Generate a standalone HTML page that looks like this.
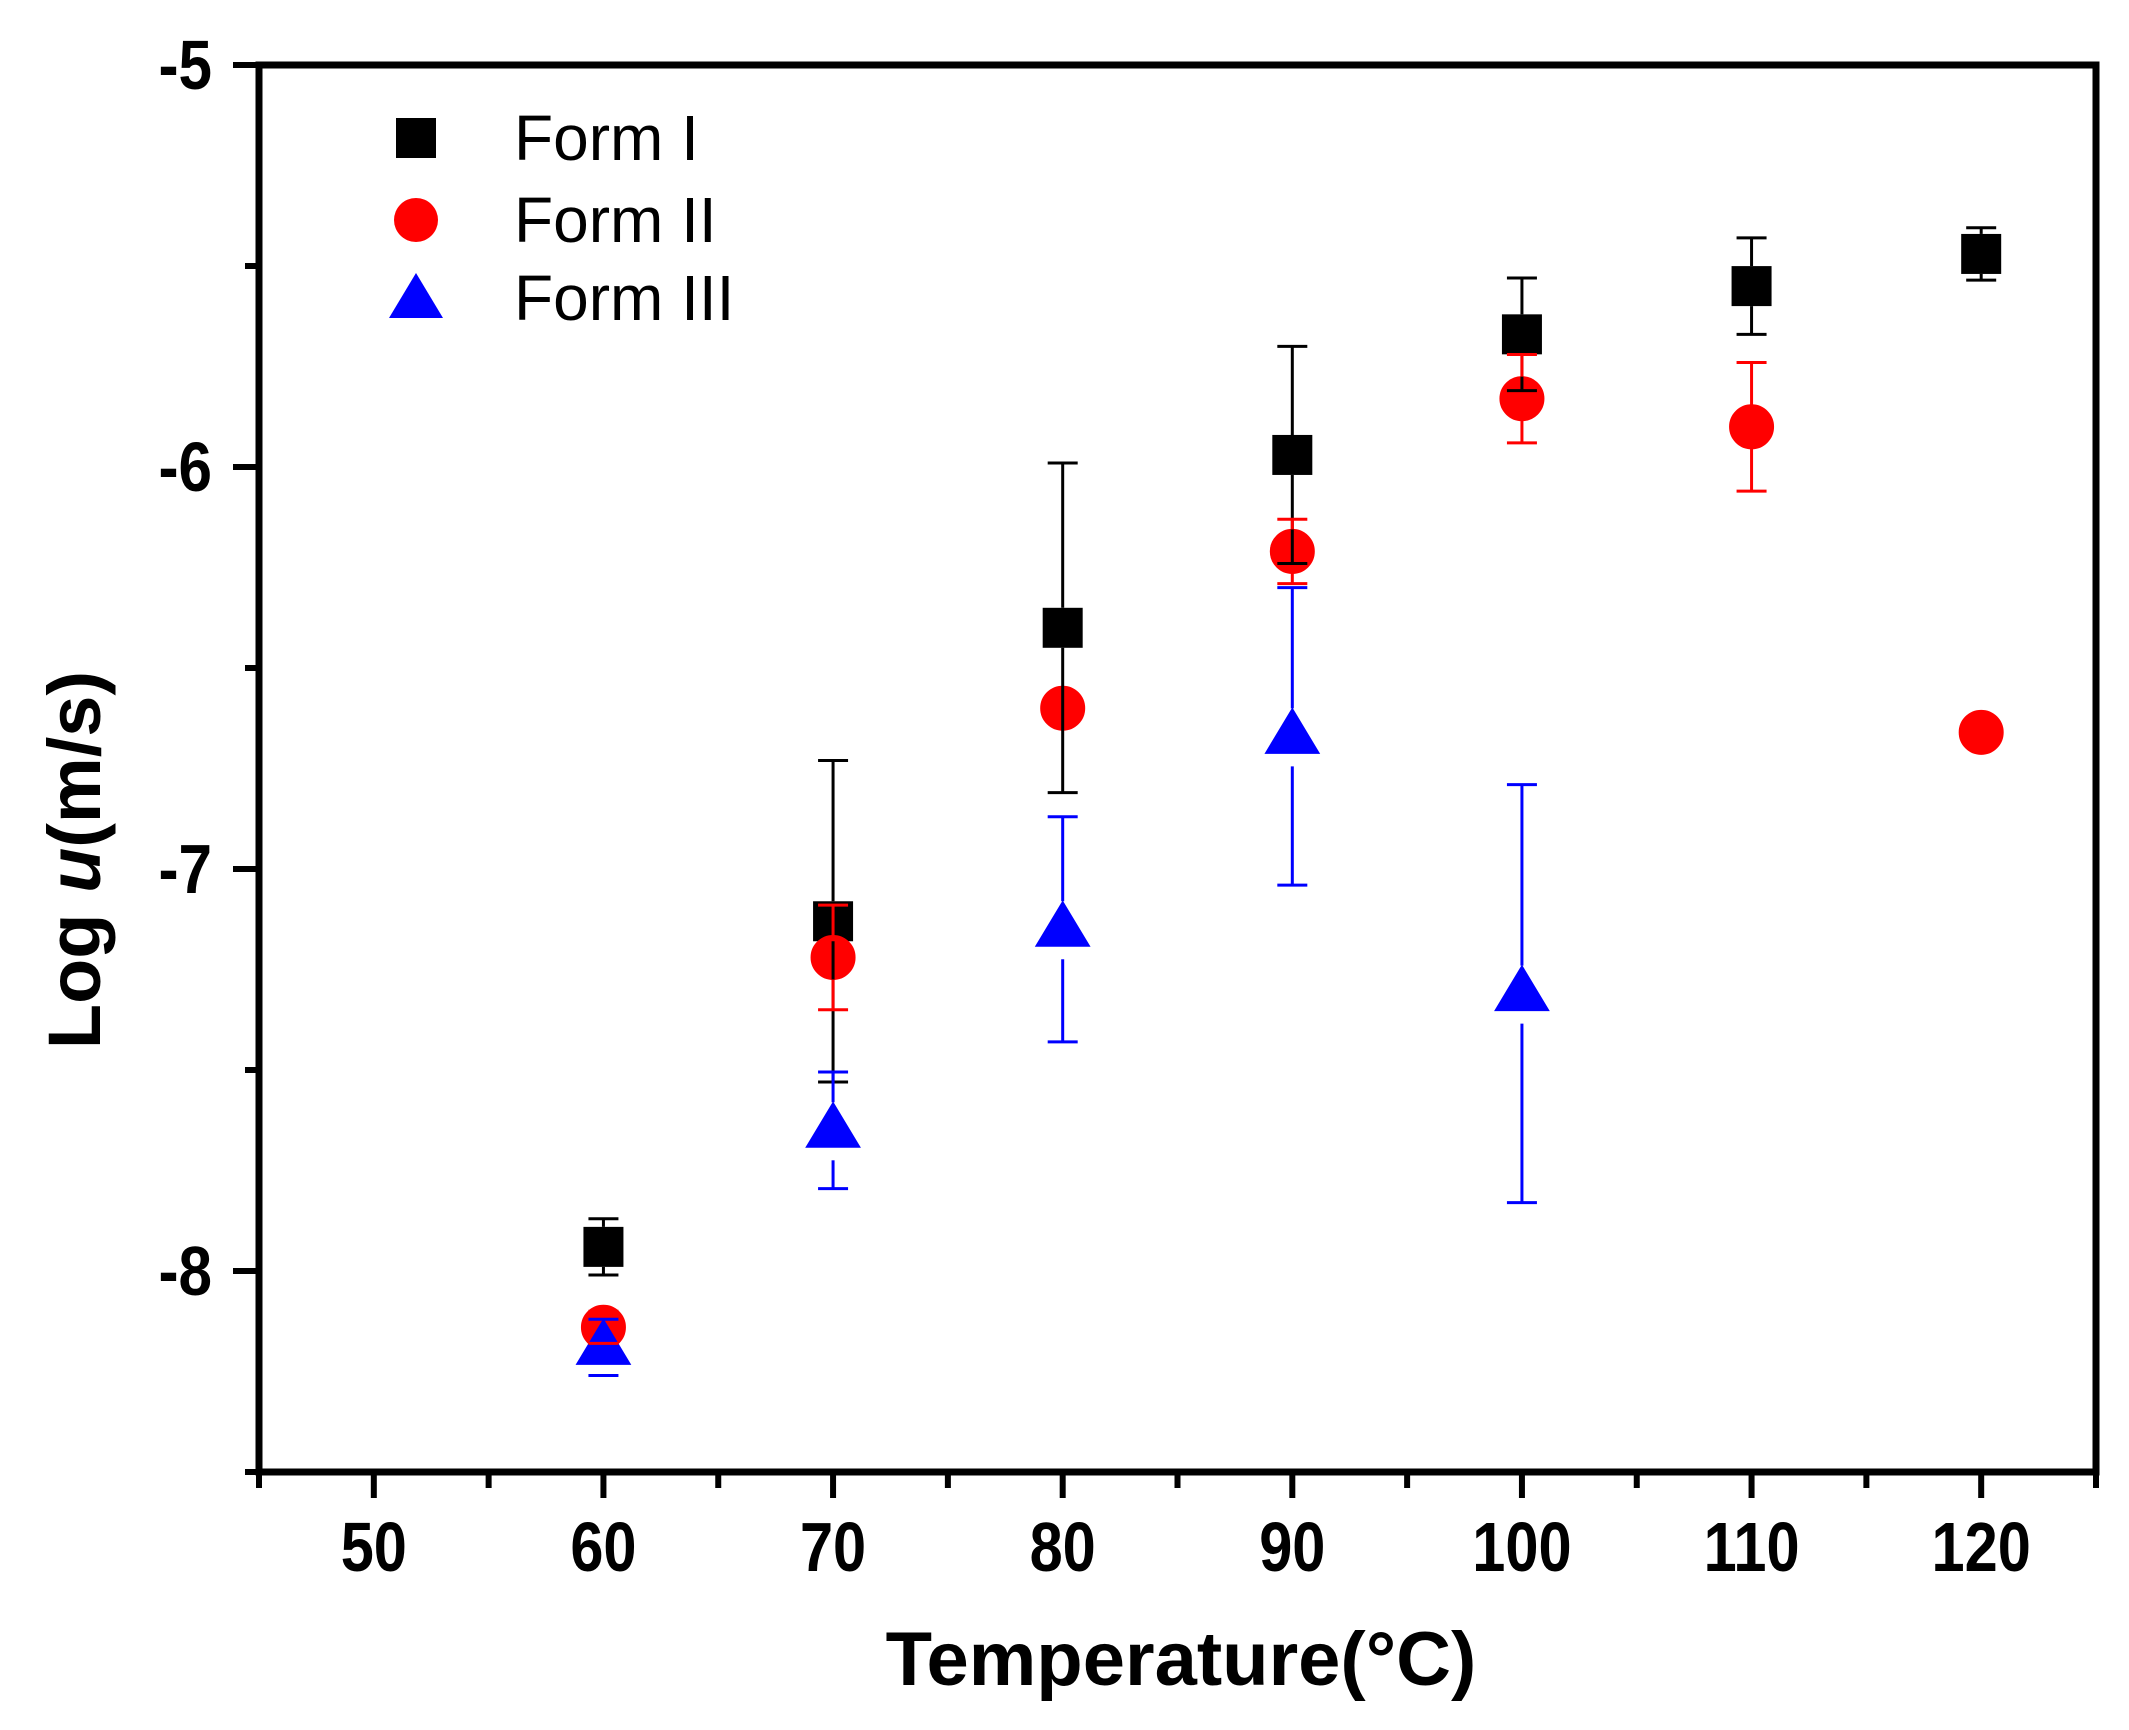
<!DOCTYPE html>
<html><head><meta charset="utf-8"><style>
html,body{margin:0;padding:0;background:#fff;}
svg{display:block;}
text{font-family:"Liberation Sans",Arial,sans-serif;}
</style></head><body>
<svg id="chart" width="2129" height="1730" viewBox="0 0 2129 1730" xmlns="http://www.w3.org/2000/svg">
<g id="marks"></g>
<g id="bars"></g>
<rect x="259" y="65" width="1837" height="1407" fill="none" stroke="#000" stroke-width="7"/>
<g id="axes"></g>
<text x="1181" y="1685" font-size="76" font-weight="bold" text-anchor="middle">Temperature(°C)</text>
<text transform="translate(100,860) rotate(-90)" font-size="74" font-weight="bold" text-anchor="middle">Log <tspan font-style="italic">u</tspan>(m/s)</text>
<g>
<g><rect x="396" y="118" width="40" height="40" fill="#000"/><text x="514" y="160" font-size="64">Form I</text></g>
<g><circle cx="416" cy="220" r="22" fill="#f00"/><text x="514" y="242" font-size="64">Form II</text></g>
<g><polygon points="389,318 443,318 416,273" fill="#00f"/><text x="514" y="320" font-size="64">Form III</text></g>
</g>
</svg>
<script>
const temps = [60,70,80,90,100,110,120];
const formI = [-7.94,-7.13,-6.40,-5.97,-5.67,-5.55,-5.47];
const formIErr = [0.07,0.40,0.41,0.27,0.14,0.12,0.065];
const formII = [-8.14,-7.22,-6.60,-6.21,-5.83,-5.90,-6.66];
const formIIErr = [0.04,0.13,0,0.08,0.11,0.16,0];
const formIIITemps = [60,70,80,90,100];
const formIII = [-8.19,-7.65,-7.15,-6.67,-7.31];
const formIIIErr = [0.07,0.145,0.28,0.37,0.52];
const xTicks = [50,60,70,80,90,100,110,120];
const yTicks = [-5,-6,-7,-8];

const X0=259,X1=2096,Y0=65,Y1=1472,xmin=45,xmax=125,ymin=-8.5,ymax=-5;
const sx=v=>X0+(v-xmin)/(xmax-xmin)*(X1-X0);
const sy=v=>Y1-(v-ymin)/(ymax-ymin)*(Y1-Y0);
const NS="http://www.w3.org/2000/svg";
function mk(tag,attrs,parent){const e=document.createElementNS(NS,tag);for(const k in attrs)e.setAttribute(k,attrs[k]);parent.appendChild(e);return e;}
const axes=document.getElementById('axes'),marks=document.getElementById('marks'),bars=document.getElementById('bars');

for(let v=45;v<=125;v+=5){
  const major=v%10===0, x=sx(v);
  const t=mk('line',{x1:x,y1:Y1,x2:x,y2:Y1+(major?26:16),stroke:'#000','stroke-width':6},axes);
  
  
}
xTicks.forEach(v=>{
  const t=mk('text',{transform:`translate(${sx(v)},1571) scale(0.85,1)`,'font-size':70,'font-weight':'bold','text-anchor':'middle'},axes);
  t.textContent=v;
  
  
});
for(let v=-8.5;v<=-5;v+=0.5){
  const major=Number.isInteger(v), y=sy(v);
  const t=mk('line',{x1:X0,y1:y,x2:X0-(major?26:14),y2:y,stroke:'#000','stroke-width':6},axes);
  
  
}
yTicks.forEach(v=>{
  const t=mk('text',{transform:`translate(212,${sy(v)+24}) scale(0.86,1)`,'font-size':70,'font-weight':'bold','text-anchor':'end'},axes);
  t.textContent=v;
  
  
});

function errBar(x,y,e,color,offTop,offBot,name){
  if(!e)return;
  const g=mk('g',{stroke:color,'stroke-width':3},bars);
  
  
  const yt=sy(y+e), yb=sy(y-e), yc=sy(y);
  if(yt<yc-offTop) mk('line',{x1:x,x2:x,y1:yt,y2:yc-offTop},g);
  if(yb>yc+offBot) mk('line',{x1:x,x2:x,y1:yc+offBot,y2:yb},g);
  mk('line',{x1:x-15,x2:x+15,y1:yt,y2:yt},g);
  mk('line',{x1:x-15,x2:x+15,y1:yb,y2:yb},g);
}
temps.forEach((t,i)=>{
  const x=sx(t),y=sy(formI[i]);
  const m=mk('rect',{x:x-20,y:y-20,width:40,height:40,fill:'#000'},marks);
  
  
});
temps.forEach((t,i)=>{
  const m=mk('circle',{cx:sx(t),cy:sy(formII[i]),r:22,fill:'#f00',stroke:'#f00','stroke-width':1}, marks);
  
  
});
formIIITemps.forEach((t,i)=>{
  const x=sx(t),y=sy(formIII[i]);
  const m=mk('polygon',{points:`${x-27},${y+17} ${x+27},${y+17} ${x},${y-28}`,fill:'#00f',stroke:'#00f','stroke-width':1},marks);
  
  
});
temps.forEach((t,i)=>errBar(sx(t),formI[i],formIErr[i],'#000',20,20,'form-i-error-bar'));
temps.forEach((t,i)=>errBar(sx(t),formII[i],formIIErr[i],'#f00',22,22,'form-ii-error-bar'));
formIIITemps.forEach((t,i)=>errBar(sx(t),formIII[i],formIIIErr[i],'#00f',28,30,'form-iii-error-bar'));
</script>
</body></html>
